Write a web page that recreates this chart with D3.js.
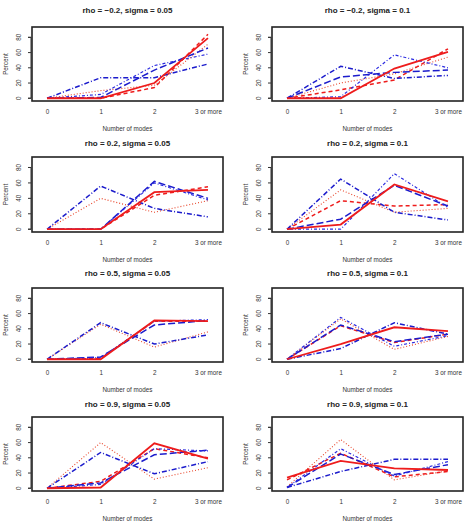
<!DOCTYPE html>
<html>
<head>
<meta charset="utf-8">
<script src="https://cdn.jsdelivr.net/npm/d3@7"></script>
<style>
  body { margin: 0; background: #fff; }
  svg { display: block; font-family: "Liberation Sans", Arial, sans-serif; }
</style>
</head>
<body>
<svg id="chart" width="467" height="531"></svg>
<script>
// panel titles, row-major (left column, right column)
const titles = [
  "rho = \u22120.2, sigma = 0.05", "rho = \u22120.2, sigma = 0.1",
  "rho = 0.2, sigma = 0.05", "rho = 0.2, sigma = 0.1",
  "rho = 0.5, sigma = 0.05", "rho = 0.5, sigma = 0.1",
  "rho = 0.9, sigma = 0.05", "rho = 0.9, sigma = 0.1"
];
const modes = ["0", "1", "2", "3 or more"];
const yTicks = [0, 20, 40, 60, 80];

// percent per number of modes, one row per panel
const redSolid = [
  [0, 0, 20, 79], [0, 0, 39, 61],
  [0, 0, 48, 51], [0, 6, 58, 36],
  [0, 0, 51, 50], [0, 20, 42, 37],
  [0, 1, 59, 39], [14, 36, 26, 24]
];
const redDashed = [
  [0, 0, 14, 84], [0, 11, 24, 65],
  [0, 0, 44, 55], [0, 37, 30, 32],
  [0, 1, 50, 50], [0, 44, 22, 33],
  [0, 9, 52, 40], [11, 46, 15, 22]
];
const redDotted = [
  [0, 10, 17, 71], [0, 20, 32, 54],
  [0, 40, 22, 37], [0, 51, 22, 27],
  [0, 46, 16, 36], [0, 53, 13, 30],
  [0, 60, 12, 27], [2, 64, 11, 23]
];
const blueDashed = [
  [0, 1, 37, 66], [0, 28, 34, 37],
  [0, 0, 62, 40], [0, 13, 57, 30],
  [0, 3, 45, 51], [0, 45, 23, 33],
  [0, 7, 44, 50], [1, 45, 18, 31]
];
const blueDashDot = [
  [0, 27, 27, 45], [0, 42, 26, 30],
  [0, 56, 27, 16], [0, 65, 22, 12],
  [0, 48, 20, 32], [0, 14, 48, 33],
  [0, 47, 19, 35], [1, 22, 38, 38]
];
const blueTwoDash = [
  [0, 5, 43, 58], [0, 2, 57, 40],
  [0, 0, 60, 38], [0, 0, 72, 28],
  [0, 2, 50, 52], [0, 55, 17, 31],
  [0, 5, 52, 49], [1, 52, 16, 35]
];

const series = [
  { values: redDotted, color: "#e8452a", width: 1.1, dash: "1,2" },
  { values: redDashed, color: "#ee1c1c", width: 1.5, dash: "4,3" },
  { values: blueDashed, color: "#1c1ccc", width: 1.5, dash: "7,3" },
  { values: blueDashDot, color: "#1c1ccc", width: 1.5, dash: "5,2,1,2" },
  { values: blueTwoDash, color: "#2a2ae0", width: 1.2, dash: "1,2,3,2" },
  { values: redSolid, color: "#ee1c1c", width: 1.8, dash: null }
];

// plot box per column / row
const colX = [[32, 223], [272, 463]];
const rowY = [[27, 101], [157, 232], [288, 362], [417, 491]];
const titleGap = [17, 14, 15, 13];

const svg = d3.select("#chart");

titles.forEach((title, i) => {
  const [x0, x1] = colX[i % 2];
  const r = Math.floor(i / 2);
  const [y0, y1] = rowY[r];

  const x = d3.scalePoint().domain(modes).range([x0, x1]).padding(0.28);
  const y = d3.scaleLinear().domain([-3.6, 93.6]).range([y1, y0]);

  const g = svg.append("g");

  // title
  g.append("text")
    .attr("x", (x0 + x1) / 2)
    .attr("y", y0 - titleGap[r])
    .attr("text-anchor", "middle")
    .attr("dominant-baseline", "central")
    .attr("font-size", 8)
    .attr("font-weight", "bold")
    .attr("fill", "#222")
    .text(title);

  // y axis (R style, rotated labels)
  const yAxis = g.append("g")
    .attr("transform", `translate(${x0 - 1},0)`)
    .call(d3.axisLeft(y).tickValues(yTicks).tickSize(3).tickPadding(2));
  yAxis.select(".domain").attr("stroke", "#333").attr("d", `M-3,${y(80)}H0V${y(0)}H-3`);
  yAxis.selectAll(".tick line").attr("stroke", "#333");
  yAxis.selectAll(".tick text")
    .attr("font-size", 6.3)
    .attr("fill", "#333")
    .attr("x", null)
    .attr("dy", null)
    .attr("text-anchor", "middle")
    .attr("transform", d => `translate(-10,${y(d)}) rotate(-90)`)
    .attr("y", 0);
  yAxis.selectAll(".tick").attr("transform", null);
  yAxis.selectAll(".tick line").attr("transform", d => `translate(0,${y(d)})`);

  g.append("text")
    .attr("transform", `translate(${x0 - 27},${(y0 + y1) / 2}) rotate(-90)`)
    .attr("text-anchor", "middle")
    .attr("dominant-baseline", "central")
    .attr("font-size", 6.3)
    .attr("fill", "#333")
    .text("Percent");

  // x labels, no ticks
  const xAxis = g.append("g")
    .attr("transform", `translate(0,${y1})`)
    .call(d3.axisBottom(x).tickSize(0).tickPadding(9));
  xAxis.select(".domain").remove();
  xAxis.selectAll(".tick text").attr("font-size", 6.3).attr("fill", "#333");

  g.append("text")
    .attr("x", (x0 + x1) / 2)
    .attr("y", y1 + 27)
    .attr("text-anchor", "middle")
    .attr("dominant-baseline", "central")
    .attr("font-size", 6.3)
    .attr("fill", "#333")
    .text("Number of modes");

  // lines
  const line = d3.line()
    .x((d, j) => x(modes[j]))
    .y(d => y(d));

  series.forEach(s => {
    g.append("path")
      .attr("d", line(s.values[i]))
      .attr("fill", "none")
      .attr("stroke", s.color)
      .attr("stroke-width", s.width)
      .attr("stroke-dasharray", s.dash);
  });

  // box
  g.append("rect")
    .attr("x", x0).attr("y", y0)
    .attr("width", x1 - x0).attr("height", y1 - y0)
    .attr("fill", "none")
    .attr("stroke", "#222")
    .attr("stroke-width", 1.6);
});
</script>
</body>
</html>
